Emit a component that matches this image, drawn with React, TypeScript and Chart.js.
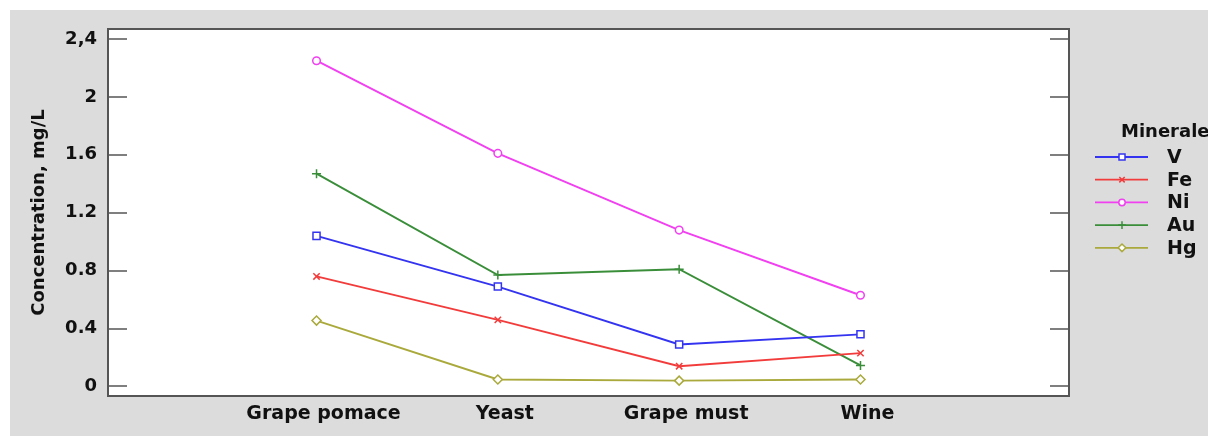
import React, { useEffect, useRef } from 'react';
import { Chart, registerables } from 'chart.js';
import { drawPoint } from 'chart.js/helpers';

Chart.register(...registerables);

const categories = ['Grape pomace', 'Yeast', 'Grape must', 'Wine'];
const seriesNames = ['V', 'Fe', 'Ni', 'Au', 'Hg'];
const vValues = [1.04, 0.69, 0.29, 0.36];
const feValues = [0.76, 0.46, 0.14, 0.23];
const niValues = [2.25, 1.61, 1.08, 0.63];
const auValues = [1.47, 0.77, 0.81, 0.145];
const hgValues = [0.455, 0.048, 0.04, 0.048];
const yTicks = [0, 0.4, 0.8, 1.2, 1.6, 2, 2.4];
const yTickLabels = ['0', '0.4', '0.8', '1.2', '1.6', '2', '2,4'];
const legendTitle = 'Minerale';
const yTitle = 'Concentration, mg/L';

const FONT = "'DejaVu Sans', 'Liberation Sans', Arial, sans-serif";
const colors = ['#3434f0', '#f23c3c', '#f040f0', '#3a8e3a', '#a9a93c'];
const pointStyles = ['rect', 'crossRot', 'circle', 'cross', 'rectRot'];
const pointRadii = [5, 4.5, 3.8, 4.5, 4.5];

export default function App() {
  const ref = useRef<HTMLCanvasElement>(null);

  useEffect(() => {
    const canvas = ref.current;
    if (!canvas) return;
    const seriesValues = [vValues, feValues, niValues, auValues, hgValues];

    const framePlugin = {
      id: 'frame',
      beforeDraw(chart: any) {
        const { ctx, width, height, chartArea: a } = chart;
        ctx.save();
        ctx.fillStyle = '#ffffff';
        ctx.fillRect(0, 0, width, height);
        ctx.fillStyle = '#dcdcdc';
        ctx.fillRect(10, 10, width - 10, height - 10);
        ctx.fillStyle = '#ffffff';
        ctx.fillRect(a.left, a.top, a.right - a.left, a.bottom - a.top);
        ctx.restore();
      },
      afterDraw(chart: any) {
        const { ctx, chartArea: a } = chart;
        const y = chart.scales.y;
        ctx.save();
        ctx.strokeStyle = '#555555';
        ctx.lineWidth = 1.5;
        yTicks.forEach((v) => {
          const py = Math.round(y.getPixelForValue(v));
          ctx.beginPath();
          ctx.moveTo(a.left, py);
          ctx.lineTo(a.left + 19, py);
          ctx.moveTo(a.right - 19, py);
          ctx.lineTo(a.right, py);
          ctx.stroke();
        });
        ctx.lineWidth = 2;
        ctx.strokeRect(a.left, a.top, a.right - a.left, a.bottom - a.top);

        // legend
        ctx.fillStyle = '#111111';
        ctx.textBaseline = 'middle';
        ctx.textAlign = 'left';
        ctx.font = `bold 18px ${FONT}`;
        ctx.fillText(legendTitle, 1121, 132);
        ctx.font = `bold 19px ${FONT}`;
        chart.data.datasets.forEach((ds: any, i: number) => {
          const ry = 157 + i * 22.7;
          ctx.strokeStyle = ds.borderColor;
          ctx.lineWidth = 1.8;
          ctx.beginPath();
          ctx.moveTo(1095, ry);
          ctx.lineTo(1148, ry);
          ctx.stroke();
          ctx.fillStyle = '#ffffff';
          ctx.strokeStyle = ds.borderColor;
          ctx.lineWidth = 1.5;
          drawPoint(ctx, { pointStyle: ds.pointStyle, radius: ds.pointRadius * 0.85, rotation: 0, borderWidth: 1.5 } as any, 1122, ry);
          ctx.fillStyle = '#111111';
          ctx.fillText(ds.label, 1167, ry + 1);
        });
        ctx.restore();
      },
    };

    const chart = new Chart(canvas, {
      type: 'line',
      data: {
        datasets: seriesNames.map((name, i) => ({
          label: name,
          data: seriesValues[i].map((v, j) => ({ x: j, y: v })),
          borderColor: colors[i],
          backgroundColor: colors[i],
          pointBackgroundColor: '#ffffff',
          pointBorderColor: colors[i],
          pointStyle: pointStyles[i] as any,
          pointRadius: pointRadii[i],
          pointBorderWidth: 1.5,
          borderWidth: 1.9,
          tension: 0,
          fill: false,
        })),
      },
      options: {
        animation: false,
        responsive: false,
        maintainAspectRatio: false,
        devicePixelRatio: 1,
        layout: { padding: { top: 29, right: 139, left: 0, bottom: 0 } },
        plugins: {
          legend: { display: false },
          tooltip: { enabled: false },
          title: { display: false },
        },
        scales: {
          x: {
            type: 'linear',
            min: -1.15,
            max: 4.15,
            afterBuildTicks: (s: any) => {
              s.ticks = categories.map((_, i) => ({ value: i }));
            },
            afterFit: (s: any) => {
              s.height = 40;
            },
            grid: { display: false, drawTicks: false },
            border: { display: false },
            ticks: {
              callback: (_v: any, idx: number) => categories[idx],
              font: { family: FONT, size: 19, weight: 'bold' },
              color: '#111111',
              padding: 7,
              labelOffset: 7,
              autoSkip: false,
              maxRotation: 0,
            },
          },
          y: {
            type: 'linear',
            min: -0.066,
            max: 2.469,
            afterBuildTicks: (s: any) => {
              s.ticks = yTicks.map((v) => ({ value: v }));
            },
            afterFit: (s: any) => {
              s.width = 108;
            },
            grid: { display: false, drawTicks: false },
            border: { display: false },
            ticks: {
              callback: (_v: any, idx: number) => yTickLabels[idx],
              font: { family: FONT, size: 18, weight: 'bold' },
              color: '#111111',
              padding: 11,
            },
            title: {
              display: true,
              text: yTitle,
              font: { family: FONT, size: 18, weight: 'bold' },
              color: '#111111',
              padding: { top: 29, bottom: 0 },
            },
          },
        },
      },
      plugins: [framePlugin],
    });

    return () => chart.destroy();
  }, []);

  return (
    <div style={{ position: 'absolute', left: 0, top: 0, width: 1208, height: 436 }}>
      <canvas ref={ref} width={1208} height={436} style={{ display: 'block', width: 1208, height: 436 }} />
    </div>
  );
}
